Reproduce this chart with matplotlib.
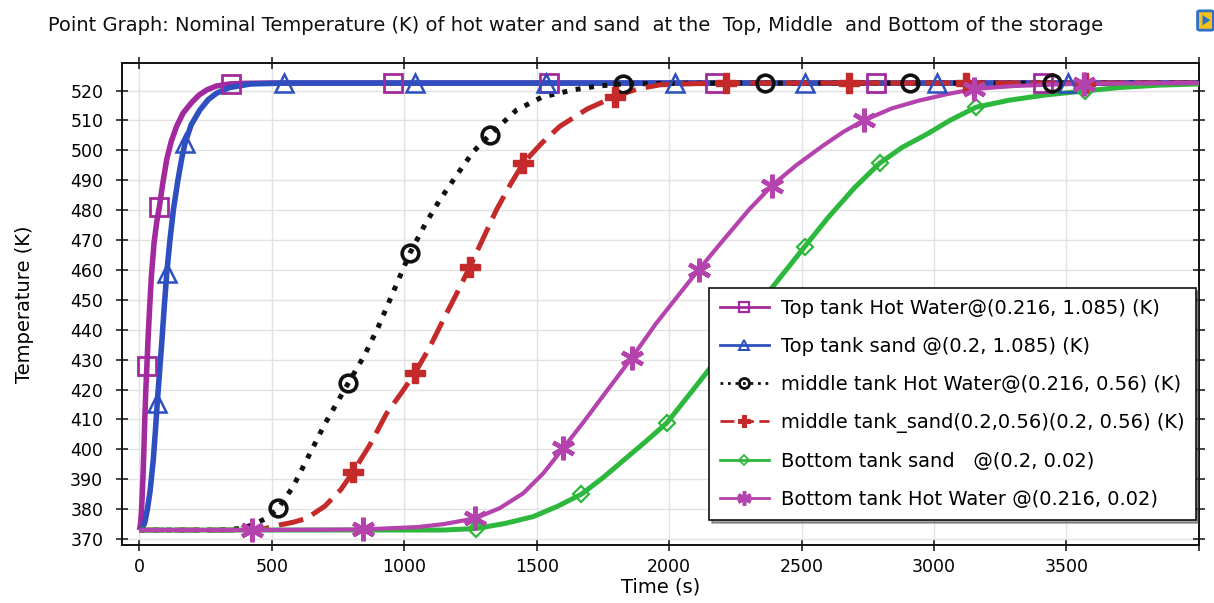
"""
Point graph of nominal temperature (K) of hot water and sand at the top,
middle and bottom of the storage tank.
"""
import matplotlib
matplotlib.use("Agg")
import matplotlib.pyplot as plt
from matplotlib.lines import Line2D
from matplotlib.patches import FancyBboxPatch, Polygon

plt.rcParams.update({
    "font.family": ["DejaVu Sans"],
    "font.size": 12.5,
})

# ---------------- curves: time (s) / temperature (K) ----------------
top_water_t = [0, 4, 8, 12, 16, 20, 24, 28, 33, 38, 45, 55, 65, 75, 88, 103, 120,
               140, 165, 197, 225, 254, 290, 342, 400, 500, 4000]
top_water_T = [373, 375, 380, 388, 398, 410, 420, 428, 438, 447, 458, 469, 476, 481,
               489, 497, 503, 508, 512.5, 516, 518.5, 520.2, 521.5, 522.2, 522.4,
               522.5, 522.5]
top_water_mt = [28, 75, 344, 957, 1546, 2172, 2780, 3410]
top_water_mT = [428, 481, 522.2, 522.5, 522.5, 522.5, 522.5, 522.5]

top_sand_t = [0, 10, 20, 30, 40, 52, 60, 67, 75, 84, 93, 103, 115, 128, 145, 160,
              172, 195, 228, 260, 291, 340, 420, 550, 4000]
top_sand_T = [373, 373.5, 375.5, 380, 386, 396.4, 406, 415.4, 425, 435.5, 447, 458.9,
              470, 480.1, 490, 497.5, 502.4, 508.5, 513.5, 517, 519.1, 521, 522.2,
              522.5, 522.5]
top_sand_mt = [67, 103, 172, 545, 1040, 1535, 2023, 2513, 3011, 3505]
top_sand_mT = [415.4, 458.9, 502.4, 522.5, 522.5, 522.5, 522.5, 522.5, 522.5, 522.5]

mid_water_t = [0, 300, 380, 430, 480, 524, 580, 631, 700, 788, 850, 902, 960, 1021,
               1080, 1134, 1200, 1260, 1323, 1424, 1520, 1637, 1730, 1826, 2000,
               2200, 4000]
mid_water_T = [373, 373, 373.5, 374.8, 377, 380.3, 387.5, 396.4, 408.5, 422.1, 431.5,
               441, 453, 465.6, 475.5, 483.4, 492, 499.5, 505.2, 513.5, 517.8, 520.2,
               521.5, 522.2, 522.4, 522.5, 522.5]
mid_water_mt = [524, 788, 1021, 1323, 1826, 2361, 2908, 3444]
mid_water_mT = [380.3, 422.1, 465.6, 505.2, 522.2, 522.5, 522.5, 522.5]

mid_sand_t = [0, 450, 530, 580, 631, 700, 760, 807, 870, 933, 990, 1040, 1095, 1147,
              1200, 1248, 1300, 1348, 1400, 1449, 1520, 1587, 1690, 1795, 1880, 1965,
              2100, 2300, 4000]
mid_sand_T = [373, 373, 374.7, 375.6, 376.9, 381, 386.5, 392.5, 401.5, 412, 419,
              425.5, 434, 443.3, 452.5, 461.1, 471, 480.1, 488.5, 495.7, 502.5, 508,
              513.8, 518, 520.5, 521.9, 522.3, 522.5, 522.5]
mid_sand_mt = [807, 1040, 1248, 1449, 1795, 2215, 2680, 3120, 3570]
mid_sand_mT = [392.5, 425.5, 461.1, 495.7, 518, 522.5, 522.5, 522.5, 522.5]

bot_sand_t = [0, 1150, 1270, 1380, 1487, 1580, 1669, 1750, 1830, 1910, 1991, 2100,
              2250, 2388, 2512, 2600, 2700, 2795, 2880, 2973, 3060, 3158, 3280, 3420,
              3562, 3700, 3850, 4000]
bot_sand_T = [373, 373, 373.5, 375.2, 377.5, 381, 385, 390.5, 396.5, 402.5, 408.8,
              421, 438, 454, 467.8, 477.5, 487.5, 495.7, 501, 505.4, 510, 514.4,
              516.7, 518.5, 519.8, 521, 521.8, 522.2]
bot_sand_mt = [1270, 1669, 1991, 2512, 2795, 3158, 3570]
bot_sand_mT = [373.5, 385, 408.8, 467.8, 495.7, 514.4, 519.8]

bot_water_t = [0, 424, 845, 1050, 1150, 1267, 1360, 1449, 1525, 1600, 1680, 1760,
               1858, 1950, 2048, 2111, 2200, 2300, 2388, 2480, 2580, 2660, 2735, 2840,
               2942, 3050, 3151, 3300, 3450, 3567, 4000]
bot_water_T = [373, 373, 373.2, 374, 375, 376.9, 380.3, 385.3, 392, 400.4, 409.5,
               419, 430.5, 442, 453, 460, 469.5, 480, 488.2, 495, 501.5, 506.3, 510,
               514, 516.6, 518.8, 520.5, 521.5, 522, 522.3, 522.5]
bot_water_mt = [424, 845, 1267, 1600, 1858, 2111, 2388, 2735, 3151, 3567]
bot_water_mT = [373, 373.2, 376.9, 400.4, 430.5, 460, 488.2, 510, 520.5, 522.3]

labels = [
    "Top tank Hot Water@(0.216, 1.085) (K)",
    "Top tank sand @(0.2, 1.085) (K)",
    "middle tank Hot Water@(0.216, 0.56) (K)",
    "middle tank_sand(0.2,0.56)(0.2, 0.56) (K)",
    "Bottom tank sand   @(0.2, 0.02)",
    "Bottom tank Hot Water @(0.216, 0.02)",
]

x_ticks = [0, 500, 1000, 1500, 2000, 2500, 3000, 3500, 4000]
x_ticklabels = ["0", "500", "1000", "1500", "2000", "2500", "3000", "3500", ""]
y_ticks = list(range(370, 521, 10))

C_TOPW = "#a22a9e"
C_TOPS = "#2e4fbf"
C_MIDW = "#111111"
C_MIDS = "#c42a2a"
C_BOTS = "#2db83d"
C_BOTW = "#b543ad"

# (t, T, marker t, marker T, color, linestyle, lw, marker, ms, mew, filled)
series = [
    (top_water_t, top_water_T, top_water_mt, top_water_mT, C_TOPW, "-", 4.0, "s", 13, 2.0, False),
    (top_sand_t, top_sand_T, top_sand_mt, top_sand_mT, C_TOPS, "-", 4.0, "^", 13, 1.8, False),
    (mid_water_t, mid_water_T, mid_water_mt, mid_water_mT, C_MIDW, (0, (1, 1.7)), 3.6, "o", 12, 2.6, False),
    (mid_sand_t, mid_sand_T, mid_sand_mt, mid_sand_mT, C_MIDS, (0, (5, 2)), 3.6, "P", 14, 1.0, True),
    (bot_sand_t, bot_sand_T, bot_sand_mt, bot_sand_mT, C_BOTS, "-", 3.6, "D", 8, 1.6, False),
    (bot_water_t, bot_water_T, bot_water_mt, bot_water_mT, C_BOTW, "-", 3.0, (6, 2, 0), 17, 3.2, True),
]

fig = plt.figure(figsize=(12.14, 6.03), dpi=100)
ax = fig.add_axes([0.1005, 0.0962, 0.887, 0.7993])

for t, T, mt, mT, c, ls, lw, mk, ms, mew, filled in series:
    ax.plot(t, T, color=c, ls=ls, lw=lw, solid_capstyle="butt",
            dash_capstyle="butt", solid_joinstyle="round", zorder=3)
    ax.plot(mt, mT, ls="none", marker=mk, ms=ms, mew=mew, color=c,
            mfc=c if filled else "none", mec=c, zorder=4)

ax.set_xlim(-66, 4000)
ax.set_ylim(368, 529.2)
ax.set_xticks(x_ticks)
ax.set_xticklabels(x_ticklabels)
ax.set_yticks(y_ticks)
ax.grid(True, color="#e2e2e2", lw=1.0, zorder=0)
ax.set_axisbelow(True)
ax.tick_params(axis="both", which="major", labelsize=12.5, color="#222222",
               direction="inout", length=9, width=1.2)
ax.tick_params(axis="x", pad=5)
ax.tick_params(axis="y", pad=9)
ax.tick_params(top=True, right=True, labeltop=False, labelright=False)
for sp in ax.spines.values():
    sp.set_linewidth(1.4)
    sp.set_color("#111111")

ax.set_xlabel("Time (s)", fontsize=14, labelpad=1)
ax.set_ylabel("Temperature (K)", fontsize=14, labelpad=26)

fig.text(0.0395, 0.957,
         "Point Graph: Nominal Temperature (K) of hot water and sand  at the  Top, "
         "Middle  and Bottom of the storage",
         fontsize=14, ha="left", va="center", color="#111111")

# legend proxies: thin line with small marker
handles = []
for (t, T, mt, mT, c, ls, lw, mk, ms, mew, filled), lab in zip(series, labels):
    handles.append(Line2D([], [], color=c, ls=ls, lw=2.0, marker=mk,
                          ms=ms * 0.6, mew=mew * 0.8,
                          mfc=c if filled else "none", mec=c, label=lab))
leg = ax.legend(handles=handles, loc="lower right",
                bbox_to_anchor=(0.997, 0.052), borderaxespad=0,
                fontsize=14, frameon=True, fancybox=False, shadow=True,
                handlelength=2.5, handletextpad=0.65, labelspacing=0.98,
                borderpad=0.55)
leg.get_frame().set_edgecolor("#111111")
leg.get_frame().set_linewidth(1.2)
leg.set_zorder(10)

# small toolbar icon in the upper-right corner
icon = FancyBboxPatch((0.9885, 0.952), 0.009, 0.028, transform=fig.transFigure,
                      boxstyle="round,pad=0.002", fc="#f2c21b", ec="#2f6fc6",
                      lw=2.0, figure=fig)
fig.patches.append(icon)
fig.patches.append(Polygon([[0.9905, 0.958], [0.9905, 0.975], [0.997, 0.9665]],
                           closed=True, transform=fig.transFigure,
                           fc="#2f6fc6", ec="none", figure=fig))

fig.savefig("out.png", dpi=100)
